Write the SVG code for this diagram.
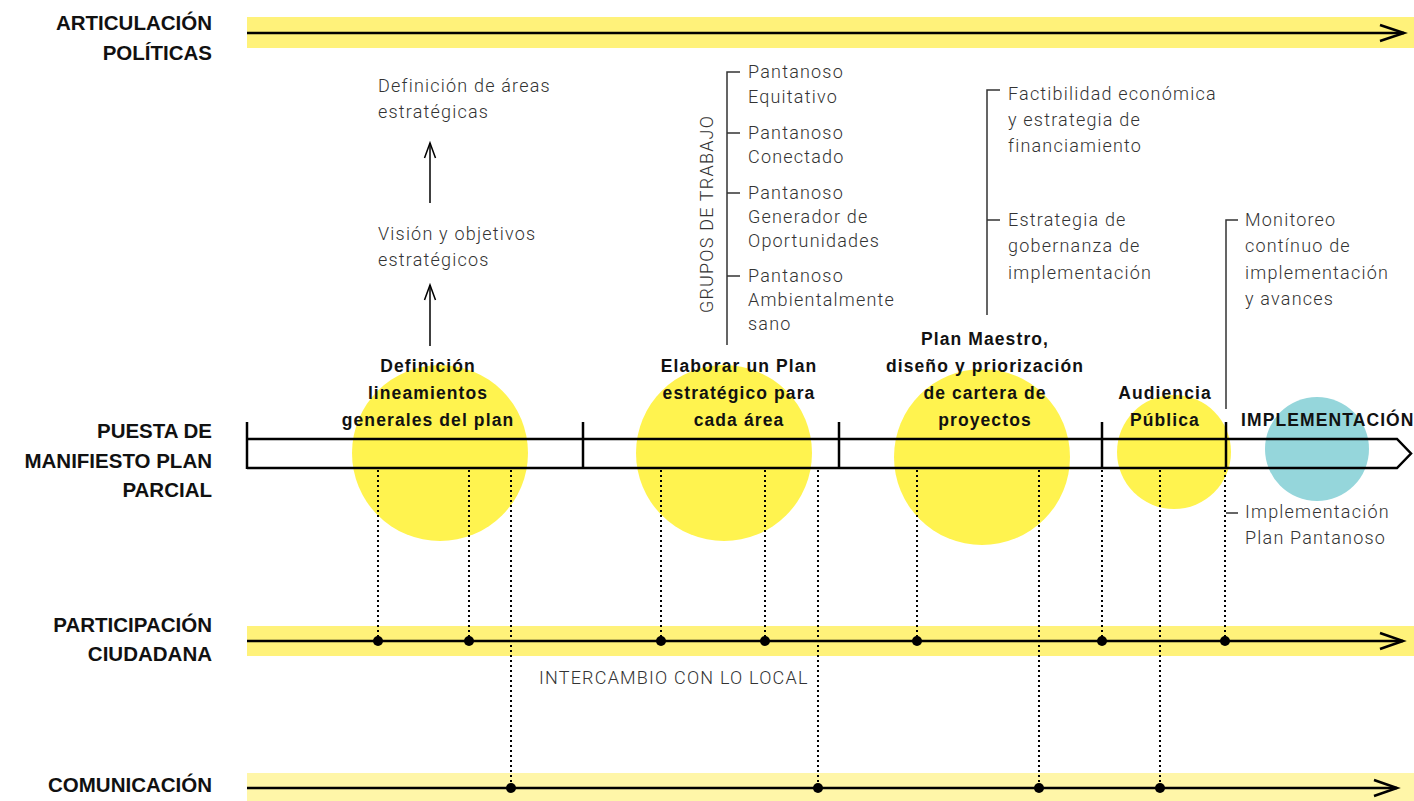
<svg xmlns="http://www.w3.org/2000/svg" width="1414" height="801" viewBox="0 0 1414 801">
<style>
.lbl{font-family:"Liberation Sans",Arial,sans-serif;font-weight:bold;font-size:20.5px;fill:#111;text-anchor:end}
.ttl{font-family:"Liberation Sans",Arial,sans-serif;font-weight:bold;font-size:17.5px;letter-spacing:1.1px;fill:#111;text-anchor:middle}
.lt{font-family:Roboto,"Liberation Sans",sans-serif;font-weight:300;font-size:18px;letter-spacing:1.2px;fill:#333}
.band{fill:#fff27a}
.axis{stroke:#000;stroke-width:2.5;fill:none}
.dot{stroke:#000;stroke-width:2;stroke-dasharray:2 3;fill:none}
.br{stroke:#333;stroke-width:1.5;fill:none}
.ah{stroke:#000;stroke-width:2.5;fill:none;stroke-linejoin:miter}
.ah2{stroke:#000;stroke-width:1.5;fill:none}
.yc{fill:#fff34f}
</style>
<rect width="1414" height="801" fill="#fff"/>

<g id="row-articulacion">
<rect class="band" x="247" y="17" width="1167" height="31"/>
<line class="axis" x1="247" y1="33" x2="1404" y2="33"/>
<path class="ah" d="M1380 25 L1404 33 L1380 41"/>
<text class="lbl" x="212" y="30">ARTICULACIÓN</text>
<text class="lbl" x="212" y="60">POLÍTICAS</text>
</g>

<g id="circles">
<circle class="yc" cx="440" cy="453" r="88"/>
<circle class="yc" cx="724" cy="453" r="88"/>
<circle class="yc" cx="982" cy="457" r="88"/>
<circle class="yc" cx="1174" cy="452" r="57"/>
<circle cx="1317" cy="449" r="52" fill="#95d6db"/>
</g>

<g id="row-puesta">
<path class="axis" d="M247 439 L1397 439 L1411 453.5 L1397 468 L247 468"/>
<line class="axis" x1="247" y1="422" x2="247" y2="469"/>
<line class="axis" x1="583" y1="422" x2="583" y2="468"/>
<line class="axis" x1="839" y1="422" x2="839" y2="468"/>
<line class="axis" x1="1102" y1="422" x2="1102" y2="468"/>
<line class="axis" x1="1226" y1="422" x2="1226" y2="468"/>
<text class="lbl" x="212" y="438">PUESTA DE</text>
<text class="lbl" x="212" y="468">MANIFIESTO PLAN</text>
<text class="lbl" x="212" y="497">PARCIAL</text>
</g>

<g id="row-participacion">
<rect class="band" x="247" y="626" width="1167" height="30"/>
<line class="axis" x1="247" y1="641" x2="1403" y2="641"/>
<path class="ah" d="M1380 633 L1403 641 L1380 649"/>
<text class="lbl" x="212" y="632">PARTICIPACIÓN</text>
<text class="lbl" x="212" y="661">CIUDADANA</text>
</g>

<g id="row-comunicacion">
<rect x="247" y="773" width="1167" height="28" fill="#fff6a8"/>
<line class="axis" x1="247" y1="788" x2="1397" y2="788"/>
<path class="ah" d="M1374 780 L1397 788 L1374 796"/>
<text class="lbl" x="212" y="792">COMUNICACIÓN</text>
</g>

<g id="connectors">
<line class="dot" x1="378" y1="470" x2="378" y2="641"/>
<line class="dot" x1="469" y1="470" x2="469" y2="641"/>
<line class="dot" x1="511" y1="470" x2="511" y2="788"/>
<line class="dot" x1="661" y1="470" x2="661" y2="641"/>
<line class="dot" x1="765" y1="470" x2="765" y2="641"/>
<line class="dot" x1="818" y1="470" x2="818" y2="788"/>
<line class="dot" x1="917" y1="470" x2="917" y2="641"/>
<line class="dot" x1="1039" y1="470" x2="1039" y2="788"/>
<line class="dot" x1="1102" y1="470" x2="1102" y2="641"/>
<line class="dot" x1="1160" y1="470" x2="1160" y2="788"/>
<line class="dot" x1="1225" y1="470" x2="1225" y2="641"/>
<g fill="#000">
<circle cx="378" cy="641" r="5"/>
<circle cx="469" cy="641" r="5"/>
<circle cx="661" cy="641" r="5"/>
<circle cx="765" cy="641" r="5"/>
<circle cx="917" cy="641" r="5"/>
<circle cx="1102" cy="641" r="5"/>
<circle cx="1225" cy="641" r="5"/>
<circle cx="511" cy="788" r="5"/>
<circle cx="818" cy="788" r="5"/>
<circle cx="1039" cy="788" r="5"/>
<circle cx="1160" cy="788" r="5"/>
</g>
<line x1="430" y1="346" x2="430" y2="285" stroke="#000" stroke-width="1.5"/>
<path class="ah2" d="M424.5 300 L430 285 L435.5 300"/>
<line x1="430" y1="203" x2="430" y2="143" stroke="#000" stroke-width="1.5"/>
<path class="ah2" d="M424.5 158 L430 143 L435.5 158"/>
<path class="br" d="M740 72 L727 72 L727 345 M727 133 L740 133 M727 193 L740 193 M727 276 L740 276"/>
<path class="br" d="M1000 90 L987 90 L987 315 M987 220 L1000 220"/>
<path class="br" d="M1238 220 L1226 220 L1226 409"/>
<path class="br" d="M1226 513 L1238 513"/>
</g>

<g id="node-definicion">
<text class="ttl" x="428" y="372">Definición</text>
<text class="ttl" x="428" y="399">lineamientos</text>
<text class="ttl" x="428" y="426">generales del plan</text>
<text class="lt" x="378" y="92">Definición de áreas</text>
<text class="lt" x="378" y="118">estratégicas</text>
<text class="lt" x="378" y="240">Visión y objetivos</text>
<text class="lt" x="378" y="266">estratégicos</text>
</g>

<g id="node-elaborar">
<text class="ttl" x="739" y="372">Elaborar un Plan</text>
<text class="ttl" x="739" y="399">estratégico para</text>
<text class="ttl" x="739" y="426">cada área</text>
<text class="lt" transform="translate(713 214) rotate(-90)" text-anchor="middle">GRUPOS DE TRABAJO</text>
<text class="lt" x="748" y="78">Pantanoso</text>
<text class="lt" x="748" y="103">Equitativo</text>
<text class="lt" x="748" y="139">Pantanoso</text>
<text class="lt" x="748" y="163">Conectado</text>
<text class="lt" x="748" y="199">Pantanoso</text>
<text class="lt" x="748" y="223">Generador de</text>
<text class="lt" x="748" y="247">Oportunidades</text>
<text class="lt" x="748" y="282">Pantanoso</text>
<text class="lt" x="748" y="306">Ambientalmente</text>
<text class="lt" x="748" y="330">sano</text>
</g>

<g id="node-plan-maestro">
<text class="ttl" x="985" y="345">Plan Maestro,</text>
<text class="ttl" x="985" y="372">diseño y priorización</text>
<text class="ttl" x="985" y="399">de cartera de</text>
<text class="ttl" x="985" y="426">proyectos</text>
<text class="lt" x="1008" y="100">Factibilidad económica</text>
<text class="lt" x="1008" y="126">y estrategia de</text>
<text class="lt" x="1008" y="152">financiamiento</text>
<text class="lt" x="1008" y="226">Estrategia de</text>
<text class="lt" x="1008" y="252">gobernanza de</text>
<text class="lt" x="1008" y="279">implementación</text>
</g>

<g id="node-audiencia">
<text class="ttl" x="1165" y="399">Audiencia</text>
<text class="ttl" x="1165" y="426">Pública</text>
</g>

<g id="node-implementacion">
<text class="ttl" x="1241" y="426" style="text-anchor:start">IMPLEMENTACIÓN</text>
<text class="lt" x="1245" y="226">Monitoreo</text>
<text class="lt" x="1245" y="252">contínuo de</text>
<text class="lt" x="1245" y="279">implementación</text>
<text class="lt" x="1245" y="305">y avances</text>
<text class="lt" x="1245" y="518">Implementación</text>
<text class="lt" x="1245" y="544">Plan Pantanoso</text>
</g>

<g id="note-intercambio">
<text class="lt" x="539" y="684">INTERCAMBIO CON LO LOCAL</text>
</g>
</svg>
